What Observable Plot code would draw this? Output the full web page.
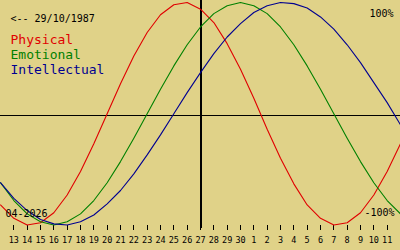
<!DOCTYPE html>
<html>
<head>
<meta charset="utf-8">
<script src="https://cdn.jsdelivr.net/npm/d3@7"></script>
<script src="https://cdn.jsdelivr.net/npm/@observablehq/plot@0.6"></script>
<style>
  html, body { margin: 0; padding: 0; background: #e0d288; }
  #chart svg { display: block; }
</style>
</head>
<body>
<div id="chart"></div>
<script>
// Day-of-month labels, Apr 12 2026 .. May 12 2026 (one per day)
const dayLabels = [12,13,14,15,16,17,18,19,20,21,22,23,24,25,26,27,28,29,30,1,2,3,4,5,6,7,8,9,10,11,12];
// Tick positions (index into dayLabels)
const tickIndex = [1,2,3,4,5,6,7,8,9,10,11,12,13,14,15,16,17,18,19,20,21,22,23,24,25,26,27,28,29];
const todayIndex = 15;

// Cycle values, -1 .. 1, one per day
const physical = [-0.82,-0.94,-1.00,-0.98,-0.89,-0.73,-0.52,-0.27,0.00,0.27,0.52,0.73,0.89,0.98,1.00,0.94,0.82,0.63,0.40,0.14,-0.14,-0.40,-0.63,-0.82,-0.94,-1.00,-0.98,-0.89,-0.73,-0.52,-0.27];
const emotional = [-0.62,-0.78,-0.90,-0.97,-1.00,-0.97,-0.90,-0.78,-0.62,-0.43,-0.22,0.00,0.22,0.43,0.62,0.78,0.90,0.97,1.00,0.97,0.90,0.78,0.62,0.43,0.22,0.00,-0.22,-0.43,-0.62,-0.78,-0.90];
const intellectual = [-0.62,-0.76,-0.87,-0.95,-0.99,-1.00,-0.97,-0.91,-0.81,-0.69,-0.54,-0.37,-0.19,0.00,0.19,0.37,0.54,0.69,0.81,0.91,0.97,1.00,0.99,0.95,0.87,0.76,0.62,0.46,0.28,0.10,-0.10];

const seriesNames = ["Physical", "Emotional", "Intellectual"];
const seriesValues = [physical, emotional, intellectual];
const seriesColors = ["#e00000", "#008000", "#000090"];

const birthLabel = "<-- 29/10/1987";
const monthLabel = "04-2026";
const topLabel = "100%";
const bottomLabel = "-100%";

const rows = seriesNames.flatMap((name, s) =>
  seriesValues[s].map((v, i) => ({ i, v, name }))
);

const font = "DejaVu Sans Mono";

const chart = Plot.plot({
  width: 400,
  height: 250,
  margin: 0,
  x: { domain: [0, 30], axis: null },
  y: { domain: [-1, 1], range: [224.5, 2], axis: null },
  color: { domain: seriesNames, range: seriesColors },
  style: { background: "#e0d288", fontFamily: font, overflow: "visible" },
  marks: [
    Plot.ruleY([0], { stroke: "black", strokeWidth: 1.5, dy: 1.75, shapeRendering: "crispEdges" }),
    Plot.ruleX([todayIndex], { stroke: "black", strokeWidth: 2, insetBottom: 22, shapeRendering: "crispEdges" }),
    Plot.ruleX(tickIndex, { x: d => d, stroke: "black", strokeWidth: 1, insetTop: 225, insetBottom: 20, shapeRendering: "crispEdges" }),
    Plot.text(tickIndex, {
      x: d => d, text: d => String(dayLabels[d]),
      frameAnchor: "bottom", lineAnchor: "bottom", dy: -8,
      fontSize: 8.5, fill: "black"
    }),
    Plot.line(rows, {
      x: "i", y: "v", z: "name", stroke: "name",
      strokeWidth: 1.1, curve: "linear"
    }),
    Plot.text([birthLabel], { text: d => d, frameAnchor: "top-left", textAnchor: "start", lineAnchor: "bottom", dx: 10, dy: 21, fontSize: 10, fill: "black" }),
    ...seriesNames.map((name, s) =>
      Plot.text([name], { text: d => d, frameAnchor: "top-left", textAnchor: "start", lineAnchor: "bottom", dx: 10, dy: 43 + 15 * s, fontSize: 13, fill: seriesColors[s] })
    ),
    Plot.text([topLabel], { text: d => d, frameAnchor: "top-right", textAnchor: "end", lineAnchor: "bottom", dx: -7, dy: 16, fontSize: 10, fill: "black" }),
    Plot.text([bottomLabel], { text: d => d, frameAnchor: "top-right", textAnchor: "end", lineAnchor: "bottom", dx: -6, dy: 215, fontSize: 10, fill: "black" }),
    Plot.text([monthLabel], { text: d => d, frameAnchor: "top-left", textAnchor: "start", lineAnchor: "bottom", dx: 5, dy: 216, fontSize: 10, fill: "black" })
  ]
});

document.getElementById("chart").appendChild(chart);
</script>
</body>
</html>
